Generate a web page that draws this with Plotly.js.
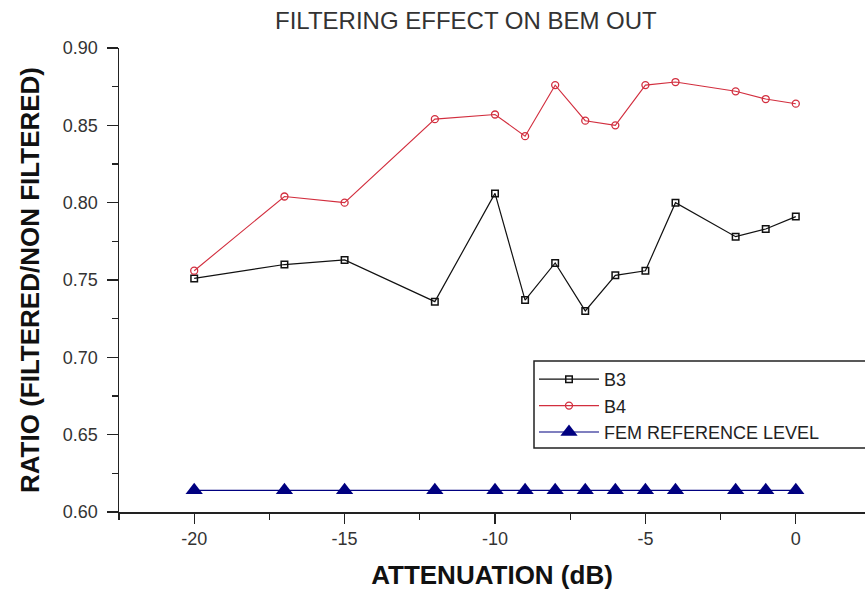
<!DOCTYPE html>
<html>
<head>
<meta charset="utf-8">
<script src="https://cdn.plot.ly/plotly-3.0.1.min.js"></script>
<style>html,body{margin:0;padding:0;background:#fff;}#chart{width:865px;height:590px;}</style>
</head>
<body>
<div id="chart"></div>
<script>
const attenuation = [-20, -17, -15, -12, -10, -9, -8, -7, -6, -5, -4, -2, -1, 0];
const b3 = [0.751, 0.760, 0.763, 0.736, 0.806, 0.737, 0.761, 0.730, 0.753, 0.756, 0.800, 0.778, 0.783, 0.791];
const b4 = [0.756, 0.804, 0.800, 0.854, 0.857, 0.843, 0.876, 0.853, 0.850, 0.876, 0.878, 0.872, 0.867, 0.864];
const femLevel = [0.614, 0.614, 0.614, 0.614, 0.614, 0.614, 0.614, 0.614, 0.614, 0.614, 0.614, 0.614, 0.614, 0.614];
const seriesNames = ['B3', 'B4', 'FEM REFERENCE LEVEL'];
const xTicks = [-20, -15, -10, -5, 0];
const yTicks = [0.60, 0.65, 0.70, 0.75, 0.80, 0.85, 0.90];

const font = 'Liberation Sans, Arial, sans-serif';

const traces = [
  {x: attenuation, y: b3, name: seriesNames[0], type: 'scatter', mode: 'lines+markers',
   line: {color: '#111111', width: 1.2},
   marker: {symbol: 'square-open', size: 6.5, color: '#111111', line: {width: 1.5}}},
  {x: attenuation, y: b4, name: seriesNames[1], type: 'scatter', mode: 'lines+markers',
   line: {color: '#d22e3e', width: 1.1},
   marker: {symbol: 'circle-open', size: 7, color: '#d22e3e', line: {width: 1.3}}},
  {x: attenuation, y: femLevel, name: seriesNames[2], type: 'scatter', mode: 'lines+markers',
   line: {color: '#000080', width: 1.2},
   marker: {symbol: 'triangle-up', size: 15, color: '#000080'}}
];

const layout = {
  width: 865, height: 590,
  paper_bgcolor: '#ffffff', plot_bgcolor: '#ffffff',
  margin: {l: 119, r: 0, t: 48, b: 78},
  showlegend: true,
  title: {text: 'FILTERING EFFECT ON BEM OUT', x: 0.465, xanchor: 'center', xref: 'paper',
          y: 1 - 21/590, yanchor: 'middle', yref: 'container',
          font: {family: font, size: 24, color: '#333333'}},
  xaxis: {
    range: [-22.5, 2.3], tickvals: xTicks, ticktext: xTicks.map(String),
    showline: true, linecolor: '#222222', linewidth: 1.5, mirror: false,
    ticks: 'outside', ticklen: 10, tickwidth: 1.2, tickcolor: '#222222',
    minor: {dtick: 2.5, tick0: 0, ticks: 'outside', ticklen: 6, tickwidth: 1.2, tickcolor: '#222222'},
    showgrid: false, zeroline: false,
    tickfont: {family: font, size: 18, color: '#333333'},
    title: {text: 'ATTENUATION (dB)', font: {family: font, size: 26, color: '#111111', weight: 'bold'}, standoff: 18}
  },
  yaxis: {
    range: [0.60, 0.90], tickvals: yTicks, ticktext: yTicks.map(v => v.toFixed(2)),
    showline: true, linecolor: '#222222', linewidth: 1.5, mirror: false,
    ticks: 'outside', ticklen: 11, tickwidth: 1.2, tickcolor: '#222222',
    ticklabelstandoff: 5,
    minor: {dtick: 0.025, tick0: 0.6, ticks: 'outside', ticklen: 6, tickwidth: 1.2, tickcolor: '#222222'},
    showgrid: false, zeroline: false,
    tickfont: {family: font, size: 18, color: '#333333'},
    title: {text: 'RATIO (FILTERED/NON FILTERED)', font: {family: font, size: 26, color: '#111111', weight: 'bold'}, standoff: 16}
  },
  shapes: [
    {type: 'rect', xref: 'paper', yref: 'paper', layer: 'above',
     x0: (534 - 119) / 746, x1: 1.05, y0: (512 - 448) / 464, y1: (512 - 361) / 464,
     line: {color: '#222222', width: 1.5}, fillcolor: 'rgba(255,255,255,0)'}
  ],
  legend: {
    x: (534 - 119) / 746, xanchor: 'left', y: (512 - 361) / 464, yanchor: 'top',
    bgcolor: 'rgba(255,255,255,0)', borderwidth: 0,
    font: {family: font, size: 18, color: '#222222'},
    tracegroupgap: 0, itemwidth: 60
  }
};

Plotly.newPlot('chart', traces, layout, {displayModeBar: false, responsive: false, staticPlot: true});
</script>
</body>
</html>
